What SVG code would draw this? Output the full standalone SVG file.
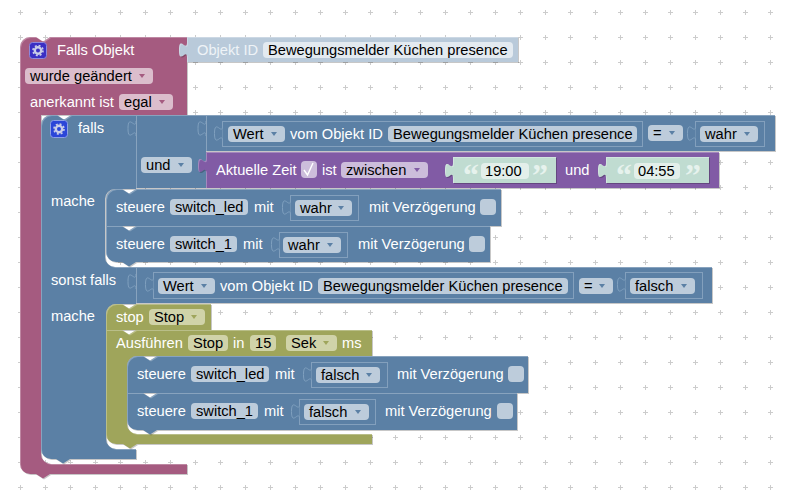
<svg xmlns="http://www.w3.org/2000/svg" width="792" height="492" viewBox="0 0 792 492">
<style>
text{font-family:"Liberation Sans",Arial,sans-serif;font-size:14.67px}
.w{fill:#fff}.k{fill:#000}
.b,.m,.o,.p,.l,.g{filter:url(#bevel)}
.b{fill:#5b80a5}.m{fill:#a55b80}.o{fill:#9fa55b}.p{fill:#815ba5}.l{fill:#b9cada}.g{fill:#c0dcd1}
.hb{fill:none;stroke:#8ca6c0;stroke-width:1}
.pb{fill:#bdccdb}.pm{fill:#dbbdcc}.po{fill:#d0d3a9}.pp{fill:#ccbddb}.pg{fill:#e3efea}
.ab{fill:#5b80a5}.am{fill:#a55b80}.ao{fill:#9fa55b}.ap{fill:#815ba5}
.box{fill:none;stroke:#83a0bd;stroke-width:1}
.tab{fill:#5b80a5;stroke:#80a0bf;stroke-width:1}
.q{font-family:"Liberation Serif",serif;font-size:32px;font-weight:bold;fill:#e6f2ed}
</style>
<defs>
<pattern id="grid" x="8" y="0" width="25" height="25" patternUnits="userSpaceOnUse"><path d="M10 12.500h5M12.500 10v5" stroke="#cccccc" stroke-width="1"/></pattern>
<filter id="bevel" x="-2%" y="-5%" width="104%" height="110%" color-interpolation-filters="sRGB">
<feOffset in="SourceAlpha" dx="1" dy="1" result="d"/>
<feFlood flood-color="#000" flood-opacity=".22"/><feComposite in2="d" operator="in" result="shadow"/>
<feFlood flood-color="#fff" flood-opacity=".28" result="wh"/>
<feComposite in="wh" in2="SourceAlpha" operator="in" result="w1"/>
<feComposite in="w1" in2="d" operator="out" result="hl"/>
<feMerge><feMergeNode in="shadow"/><feMergeNode in="SourceGraphic"/><feMergeNode in="hl"/></feMerge>
</filter>
<path id="ar" d="M-3 -2H3L0 2Z"/>
<path id="tb" d="M0 0c0 10 -8 -8 -8 7.500s8 -2.500 8 7.500"/>
<g id="gear"><circle r="3.200" fill="none" stroke="#c9cde8" stroke-width="2.400"/><circle r="5" fill="none" stroke="#c9cde8" stroke-width="1.600" stroke-dasharray="2 1.930"/></g>
</defs>
<rect x="0" y="0" width="792" height="492" fill="#ffffff"/>
<rect x="0" y="0" width="792" height="492" fill="url(#grid)"/>

<g id="connectors"></g>

<g id="falls-objekt">
<path class="m" d="M20 47A10 10 0 0 1 30 37H36L42 41H44L50 37H187V115H41V454A10 10 0 0 0 51 464H187V474H50L43 478.500L36 474H30A10 10 0 0 1 20 464Z"/>
<rect x="29.500" y="42.500" width="17" height="16" rx="3" fill="#3a2fc4" stroke="#8d87dc"/>
<use href="#gear" x="38" y="50.500"/>
<text class="w" x="57" y="55">Falls Objekt</text>
<rect class="pm" x="25" y="68" width="128" height="16" rx="4"/>
<text class="k" x="30" y="81">wurde geändert</text>
<use href="#ar" x="142" y="76" class="am"/>
<text class="w" x="30" y="107">anerkannt ist</text>
<rect class="pm" x="119" y="94" width="54" height="16" rx="4"/>
<text class="k" x="124" y="107">egal</text>
<use href="#ar" x="162" y="102" class="am"/>
</g>

<g id="objekt-id">
<path class="l" d="M187 37H518V62H187V57.500c0 -10 -8 8 -8 -7.500s8 2.500 8 -7.500Z"/>
<text x="197" y="55" fill="#eef3f7">Objekt ID</text>
<rect x="263" y="42" width="250" height="16" rx="4" fill="#e3eaf0"/>
<text class="k" x="268" y="55">Bewegungsmelder Küchen presence</text>
</g>

<g id="falls">
<path class="b" d="M41 125A10 10 0 0 1 51 115H57L63 119H65L71 115H136V189H115A10 10 0 0 0 105 199V257A10 10 0 0 0 115 267H136V304H116A10 10 0 0 0 106 314V439A10 10 0 0 0 116 449H136V459H70L63 463.500L56 459H51A10 10 0 0 1 41 449Z"/>
<rect x="50.500" y="120.500" width="17" height="17" rx="3" fill="#2b46d8" stroke="#8d9fe6"/>
<use href="#gear" x="59" y="129"/>
<text class="w" x="78" y="133">falls</text>
<text class="w" x="51" y="206">mache</text>
<text class="w" x="51" y="285">sonst falls</text>
<text class="w" x="51" y="321">mache</text>
<use href="#tb" x="136" y="121" class="tab"/>
<use href="#tb" x="136" y="274" class="tab"/>
</g>

<g id="und">
<rect class="b" x="136" y="115" width="70" height="73"/>
<rect class="pb" x="141" y="157" width="51" height="16" rx="4"/>
<text class="k" x="146" y="170">und</text>
<use href="#ar" x="181" y="165" class="ab"/>
<use href="#tb" x="206" y="121" class="tab"/>
</g>

<g id="wert-wahr">
<rect class="b" x="206" y="115" width="569" height="36"/>
<rect class="box" x="222.500" y="121.500" width="420" height="25"/>
<use href="#tb" x="222.500" y="126" class="tab"/>
<rect class="pb" x="228" y="126" width="57" height="16" rx="4"/>
<text class="k" x="233" y="139">Wert</text>
<use href="#ar" x="274" y="134" class="ab"/>
<text class="w" x="290" y="139">vom Objekt ID</text>
<rect class="pb" x="388" y="126" width="249" height="16" rx="4"/>
<text class="k" x="393" y="139">Bewegungsmelder Küchen presence</text>
<rect class="pb" x="648" y="125" width="35" height="16" rx="4"/>
<text class="k" x="653" y="138">=</text>
<use href="#ar" x="672" y="133" class="ab"/>
<rect class="box" x="695.500" y="121.500" width="69" height="25"/>
<use href="#tb" x="695.500" y="126" class="tab"/>
<rect class="pb" x="700" y="126" width="58" height="16" rx="4"/>
<text class="k" x="705" y="139">wahr</text>
<use href="#ar" x="747" y="134" class="ab"/>
</g>

<g id="aktuelle-zeit">
<path class="p" d="M206 152H719V188H206V173c0 -10 -8 8 -8 -7.500s8 2.500 8 -7.500Z"/>
<text class="w" x="216" y="175">Aktuelle Zeit</text>
<rect class="pp" x="301" y="161" width="16" height="17" rx="4"/>
<path d="M304 170L307.500 175L313 163" fill="none" stroke="#fff" stroke-width="1.400"/>
<text class="w" x="322" y="175">ist</text>
<rect class="pp" x="341" y="162" width="87" height="16" rx="4"/>
<text class="k" x="346" y="175">zwischen</text>
<use href="#ar" x="417" y="170" class="ap"/>
<text class="w" x="565" y="175">und</text>
<g id="text-1900">
<path class="g" d="M453 157H556V183H453V178c0 -10 -8 8 -8 -7.500s8 2.500 8 -7.500Z"/>
<text class="q" x="463" y="186">“</text><text class="q" x="532" y="186">”</text>
<rect class="pg" x="481" y="163" width="48" height="16" rx="4"/>
<text class="k" x="485" y="176">19:00</text>
</g>
<g id="text-0455">
<path class="g" d="M606 157H709V183H606V178c0 -10 -8 8 -8 -7.500s8 2.500 8 -7.500Z"/>
<text class="q" x="616" y="186">“</text><text class="q" x="685" y="186">”</text>
<rect class="pg" x="634" y="163" width="46" height="16" rx="4"/>
<text class="k" x="638" y="176">04:55</text>
</g>
</g>

<g id="steuere-led">
<path class="b" d="M106 199A10 10 0 0 1 116 189H122L129 193.500L136 189H501V226H106Z"/>
<text class="w" x="116" y="212">steuere</text>
<rect class="pb" x="170" y="199" width="78" height="16" rx="4"/>
<text class="k" x="175" y="212">switch_led</text>
<text class="w" x="254" y="212">mit</text>
<rect class="box" x="290.500" y="195.500" width="68" height="25"/>
<use href="#tb" x="290.500" y="200" class="tab"/>
<rect class="pb" x="295" y="200" width="57" height="16" rx="4"/>
<text class="k" x="300" y="213">wahr</text>
<use href="#ar" x="341" y="208" class="ab"/>
<text class="w" x="369" y="212">mit Verzögerung</text>
<rect class="pb" x="480" y="199" width="16" height="16" rx="4"/>
</g>

<g id="steuere-1">
<path class="b" d="M106 226H122L129 230.500L136 226H490V262H136L129 266.500L122 262H116A10 10 0 0 1 106 252Z"/>
<text class="w" x="116" y="249">steuere</text>
<rect class="pb" x="170" y="236" width="67" height="16" rx="4"/>
<text class="k" x="175" y="249">switch_1</text>
<text class="w" x="243" y="249">mit</text>
<rect class="box" x="279.500" y="232.500" width="68" height="25"/>
<use href="#tb" x="279.500" y="237" class="tab"/>
<rect class="pb" x="283" y="237" width="58" height="16" rx="4"/>
<text class="k" x="288" y="250">wahr</text>
<use href="#ar" x="330" y="245" class="ab"/>
<text class="w" x="358" y="249">mit Verzögerung</text>
<rect class="pb" x="469" y="236" width="16" height="16" rx="4"/>
</g>

<g id="wert-falsch">
<rect class="b" x="136" y="267" width="576" height="36"/>
<rect class="box" x="153.500" y="272.500" width="420" height="26"/>
<use href="#tb" x="153.500" y="277" class="tab"/>
<rect class="pb" x="158" y="278" width="57" height="16" rx="4"/>
<text class="k" x="163" y="291">Wert</text>
<use href="#ar" x="204" y="286" class="ab"/>
<text class="w" x="220" y="291">vom Objekt ID</text>
<rect class="pb" x="318" y="278" width="250" height="16" rx="4"/>
<text class="k" x="323" y="291">Bewegungsmelder Küchen presence</text>
<rect class="pb" x="579" y="278" width="34" height="16" rx="4"/>
<text class="k" x="584" y="291">=</text>
<use href="#ar" x="602" y="286" class="ab"/>
<rect class="box" x="625.500" y="272.500" width="77" height="26"/>
<use href="#tb" x="625.500" y="277" class="tab"/>
<rect class="pb" x="630" y="278" width="65" height="16" rx="4"/>
<text class="k" x="635" y="291">falsch</text>
<use href="#ar" x="684" y="286" class="ab"/>
</g>

<g id="stop">
<path class="o" d="M106 314A10 10 0 0 1 116 304H122L129 308.500L136 304H211V330H106Z"/>
<text class="w" x="116" y="322">stop</text>
<rect class="po" x="149" y="309" width="56" height="16" rx="4"/>
<text class="k" x="154" y="322">Stop</text>
<use href="#ar" x="194" y="317" class="ao"/>
</g>

<g id="ausfuehren">
<path class="o" d="M106 330H122L129 334.500L136 330H372V356H137A10 10 0 0 0 127 366V424A10 10 0 0 0 137 434H372V444H137L130 448.500L123 444H116A10 10 0 0 1 106 434Z"/>
<text class="w" x="116" y="348">Ausführen</text>
<rect class="po" x="188" y="335" width="40" height="16" rx="4"/>
<text class="k" x="193" y="348">Stop</text>
<text class="w" x="233" y="348">in</text>
<rect class="po" x="250" y="335" width="26" height="16" rx="4"/>
<text class="k" x="255" y="348">15</text>
<rect class="po" x="286" y="335" width="51" height="16" rx="4"/>
<text class="k" x="291" y="348">Sek</text>
<use href="#ar" x="326" y="343" class="ao"/>
<text class="w" x="342" y="348">ms</text>
</g>

<g id="steuere-led-2">
<path class="b" d="M127 366A10 10 0 0 1 137 356H143L150 360.500L157 356H528V393H127Z"/>
<text class="w" x="137" y="379">steuere</text>
<rect class="pb" x="191" y="366" width="78" height="16" rx="4"/>
<text class="k" x="196" y="379">switch_led</text>
<text class="w" x="275" y="379">mit</text>
<rect class="box" x="311.500" y="362.500" width="76" height="25"/>
<use href="#tb" x="311.500" y="367" class="tab"/>
<rect class="pb" x="316" y="367" width="64" height="16" rx="4"/>
<text class="k" x="321" y="380">falsch</text>
<use href="#ar" x="369" y="375" class="ab"/>
<text class="w" x="397" y="379">mit Verzögerung</text>
<rect class="pb" x="508" y="366" width="16" height="16" rx="4"/>
</g>

<g id="steuere-1-2">
<path class="b" d="M127 393H143L150 397.500L157 393H517V430H157L150 434.500L143 430H137A10 10 0 0 1 127 420Z"/>
<text class="w" x="137" y="416">steuere</text>
<rect class="pb" x="191" y="403" width="67" height="16" rx="4"/>
<text class="k" x="196" y="416">switch_1</text>
<text class="w" x="264" y="416">mit</text>
<rect class="box" x="299.500" y="399.500" width="76" height="25"/>
<use href="#tb" x="299.500" y="404" class="tab"/>
<rect class="pb" x="304" y="404" width="65" height="16" rx="4"/>
<text class="k" x="309" y="417">falsch</text>
<use href="#ar" x="358" y="412" class="ab"/>
<text class="w" x="385" y="416">mit Verzögerung</text>
<rect class="pb" x="497" y="403" width="16" height="16" rx="4"/>
</g>
</svg>
